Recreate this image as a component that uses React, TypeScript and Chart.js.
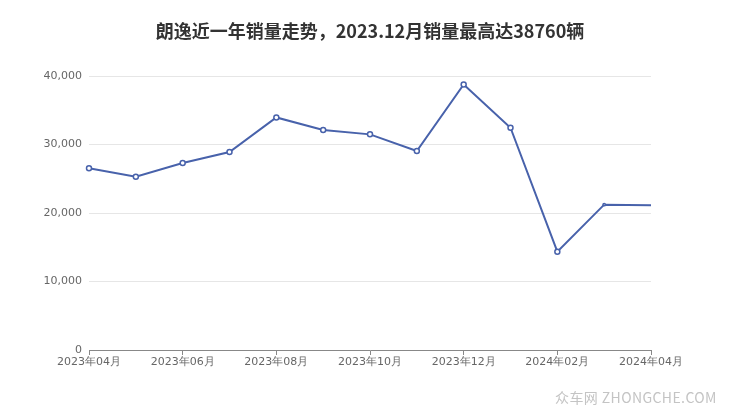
import React, { useEffect, useRef } from "react";
import { Chart, registerables } from "chart.js";

Chart.register(...registerables);

const TITLE = "朗逸近一年销量走势，2023.12月销量最高达38760辆";
const months = [
  "2023年04月", "2023年05月", "2023年06月", "2023年07月", "2023年08月", "2023年09月",
  "2023年10月", "2023年11月", "2023年12月", "2024年01月", "2024年02月", "2024年03月", "2024年04月",
];
const sales = [26520, 25300, 27300, 28900, 33950, 32120, 31480, 29050, 38760, 32450, 14360, 21220, 21120];
const pointSizes = [2.5, 2.5, 2.5, 2.5, 2.5, 2.5, 2.5, 2.5, 2.5, 2.5, 2.5, 1.2, 0];
const yMax = 40000;
const yStep = 10000;

const titlePlugin = {
  id: "centerTitle",
  afterDraw(chart: any) {
    const ctx = chart.ctx;
    ctx.save();
    ctx.font = "bold 18px 'Noto Sans CJK SC', sans-serif";
    ctx.fillStyle = "#333333";
    ctx.textAlign = "center";
    ctx.textBaseline = "middle";
    ctx.fillText(TITLE, chart.width / 2, 31);
    ctx.restore();
  },
};

export default function App() {
  const ref = useRef<HTMLCanvasElement | null>(null);
  useEffect(() => {
    if (!ref.current) return;
    const chart = new Chart(ref.current, {
      type: "line",
      data: {
        labels: months,
        datasets: [
          {
            data: sales,
            borderColor: "#4862ab",
            borderWidth: 2,
            pointRadius: pointSizes,
            pointBackgroundColor: "#ffffff",
            pointBorderColor: "#4862ab",
            pointBorderWidth: 1.5,
            tension: 0,
          },
        ],
      },
      options: {
        responsive: false,
        animation: false,
        layout: { padding: { left: 29, right: 89, top: 76, bottom: 0 } },
        plugins: {
          legend: { display: false },
          tooltip: { enabled: false },
          title: { display: false },
        },
        scales: {
          x: {
            offset: false,
            grid: { drawOnChartArea: false, drawTicks: true, tickLength: 5, color: "#888888" },
            border: { display: true, color: "#888888", width: 1 },
            ticks: {
              autoSkip: false,
              maxRotation: 0,
              padding: 1,
              color: "#666666",
              font: { size: 11, family: "'DejaVu Sans', sans-serif" },
              callback: (_v: any, i: number) => (i % 2 === 0 ? months[i] : null),
            },
            afterFit: (s: any) => { s.height = 67; },
          },
          y: {
            min: 0,
            max: yMax,
            ticks: {
              stepSize: yStep,
              padding: 7,
              color: "#666666",
              font: { size: 11, family: "'DejaVu Sans', sans-serif" },
              callback: (v: any) => Number(v).toLocaleString("en-US"),
            },
            grid: { color: "#e6e6e6", drawTicks: false },
            border: { display: false },
            afterFit: (s: any) => { s.width = 60; },
          },
        },
      },
      plugins: [titlePlugin],
    });
    return () => chart.destroy();
  }, []);
  return (
    <div style={{ position: "fixed", left: 0, top: 0, width: 740, height: 417, background: "#fff" }}>
      <canvas ref={ref} width={740} height={417} style={{ width: 740, height: 417, display: "block" }} />
      <div
        style={{
          position: "absolute",
          left: 555,
          top: 388,
          fontFamily: "'Noto Sans CJK SC', 'DejaVu Sans', sans-serif",
          fontSize: 14,
          lineHeight: "18px",
          color: "#c4c4c4",
          letterSpacing: 0.4,
          whiteSpace: "nowrap",
        }}
      >
        众车网 ZHONGCHE.COM
      </div>
    </div>
  );
}
